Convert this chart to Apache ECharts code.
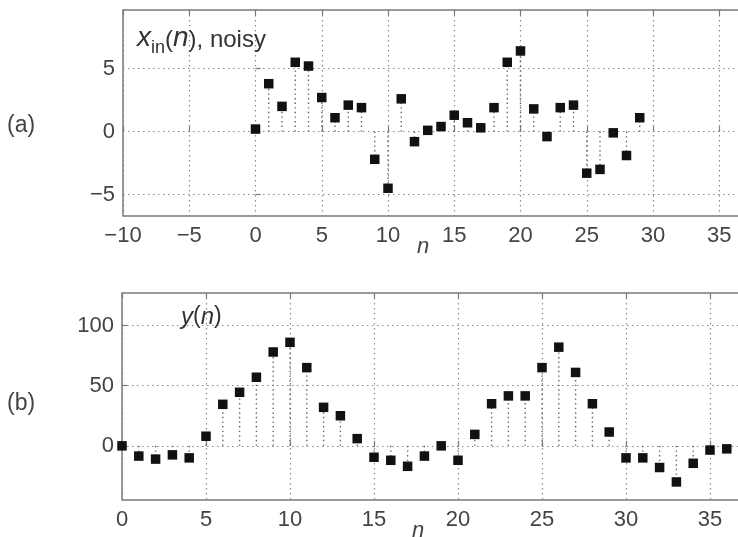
<!DOCTYPE html>
<html>
<head>
<meta charset="utf-8">
<script src="https://cdn.jsdelivr.net/npm/echarts@6/dist/echarts.min.js"></script>
<style>html,body{margin:0;padding:0;background:#fff}#c{width:738px;height:537px}</style>
</head>
<body>
<div id="c"></div>
<script>
// ---- data ----
const nA = [0,1,2,3,4,5,6,7,8,9,10,11,12,13,14,15,16,17,18,19,20,21,22,23,24,25,26,27,28,29];
const xin = [0.2,3.8,2.0,5.5,5.2,2.7,1.1,2.1,1.9,-2.2,-4.5,2.6,-0.8,0.1,0.4,1.3,0.7,0.3,1.9,5.5,6.4,1.8,-0.4,1.9,2.1,-3.3,-3.0,-0.1,-1.9,1.1];
const nB = [0,1,2,3,4,5,6,7,8,9,10,11,12,13,14,15,16,17,18,19,20,21,22,23,24,25,26,27,28,29,30,31,32,33,34,35,36,37];
const yn = [0,-8.5,-11,-7.5,-10,8,34.5,44.5,57,78,86,65,32,25,6,-9.5,-12,-17,-8.5,0,-12,9.5,35,41.5,41.5,65,82,61,35,11.5,-10,-10,-18,-30,-14.5,-3.5,-2.5,2];
const yTicksA = [-5,0,5];
const yTicksB = [0,50,100];

const FONT = '"Liberation Sans", Arial, Helvetica, sans-serif';
const LBL = '#444';
const AX = '#7a7a7a';

function pairs(xs, ys){ return xs.map((x,i)=>[x, ys[i]]); }
function minus(v){ return String(v).replace('-', '\u2212'); }

function stemSeries(data, idx){
  return {
    type:'custom', xAxisIndex: idx*2, yAxisIndex: idx, data: data, z: 2, silent:true, clip:true,
    renderItem: function(params, api){
      const x = api.value(0), y = api.value(1);
      const p0 = api.coord([x, 0]);
      const p1 = api.coord([x, y]);
      return { type:'line', shape:{x1:p0[0], y1:p0[1], x2:p1[0], y2:p1[1]},
        style:{ stroke:'#666', lineWidth:1.4, lineDash:[1.4,3.2] } };
    }
  };
}

function xAxes(gi, min, max){
  return [
    { type:'value', gridIndex:gi, min:min, max:max, interval:5, position:'bottom',
      axisLine:{show:false},
      axisTick:{show:true, inside:true, length:5, lineStyle:{color:AX, width:1.2}},
      axisLabel:{show:true, color:LBL, fontSize:22, fontFamily:FONT, margin:9, formatter:minus, showMaxLabel:false, hideOverlap:false},
      splitLine:{show:true, lineStyle:{color:'#8a8a8a', type:[1.5,3.5], width:1.2}} },
    { type:'value', gridIndex:gi, min:min, max:max, interval:5, position:'top',
      axisLine:{show:false},
      axisTick:{show:true, inside:true, length:5, lineStyle:{color:AX, width:1.2}},
      axisLabel:{show:false}, splitLine:{show:false} }
  ];
}
function yAxis(gi, min, max, ticks){
  return { type:'value', gridIndex:gi, min:min, max:max, position:'left',
    axisLine:{show:false},
    axisTick:{show:true, inside:true, length:5, customValues:ticks, lineStyle:{color:AX, width:1.2}},
    axisLabel:{show:true, customValues:ticks, color:LBL, fontSize:22, fontFamily:FONT, margin:8, formatter:minus},
    splitLine:{show:true, lineStyle:{color:'#8a8a8a', type:[1.5,3.5], width:1.2}} };
}

const chart = echarts.init(document.getElementById('c'), null, {renderer:'canvas'});
chart.setOption({
  backgroundColor:'#fff',
  animation:false,
  grid:[
    {left:123, top:10, width:662.5, height:206, show:true, borderColor:AX, borderWidth:1.5, backgroundColor:'#fff', outerBoundsMode:'none', containLabel:false},
    {left:122, top:293, width:672, height:207, show:true, borderColor:AX, borderWidth:1.5, backgroundColor:'#fff', outerBoundsMode:'none', containLabel:false}
  ],
  xAxis: xAxes(0, -10, 40).concat(xAxes(1, 0, 40)),
  yAxis: [ yAxis(0, -6.7, 9.65, yTicksA), yAxis(1, -45, 127, yTicksB) ],
  series:[
    stemSeries(pairs(nA, xin), 0),
    stemSeries(pairs(nB, yn), 1),
    { type:'scatter', xAxisIndex:0, yAxisIndex:0, data:pairs(nA, xin), symbol:'rect', symbolSize:9.5,
      itemStyle:{color:'#111', opacity:1}, z:3, silent:true },
    { type:'scatter', xAxisIndex:2, yAxisIndex:1, data:pairs(nB, yn), symbol:'rect', symbolSize:9.5,
      itemStyle:{color:'#111', opacity:1}, z:3, silent:true, clip:false }
  ],
  graphic:[
    { type:'text', left:7, top:114, style:{ text:'(a)', font:'23px '+FONT, fill:LBL } },
    { type:'text', left:7, top:392, style:{ text:'(b)', font:'23px '+FONT, fill:LBL } },
    { type:'text', left:417, top:236, style:{ text:'n', font:'italic 22px '+FONT, fill:LBL } },
    { type:'text', left:412, top:520, style:{ text:'n', font:'italic 22px '+FONT, fill:LBL } },
    { type:'text', left:137, top:24, z:10, style:{
        text:'{i|x}{s|in}{r|(}{i|n}{r|), noisy}',
        fill:'#333',
        rich:{
          i:{ fontFamily:FONT, fontSize:28, fontStyle:'italic', fill:'#333', lineHeight:29, verticalAlign:'bottom' },
          r:{ fontFamily:FONT, fontSize:24, fill:'#333', lineHeight:29, verticalAlign:'bottom' },
          s:{ fontFamily:FONT, fontSize:18, fill:'#333', lineHeight:29, verticalAlign:'bottom', padding:[0,0,-5,0] }
        } } },
    { type:'text', left:181, top:305, z:10, style:{
        text:'{i|y}{r|(}{i|n}{r|)}',
        rich:{
          i:{ fontFamily:FONT, fontSize:24, fontStyle:'italic', fill:'#333' },
          r:{ fontFamily:FONT, fontSize:23, fill:'#333' }
        } } }
  ]
});
</script>
</body>
</html>
